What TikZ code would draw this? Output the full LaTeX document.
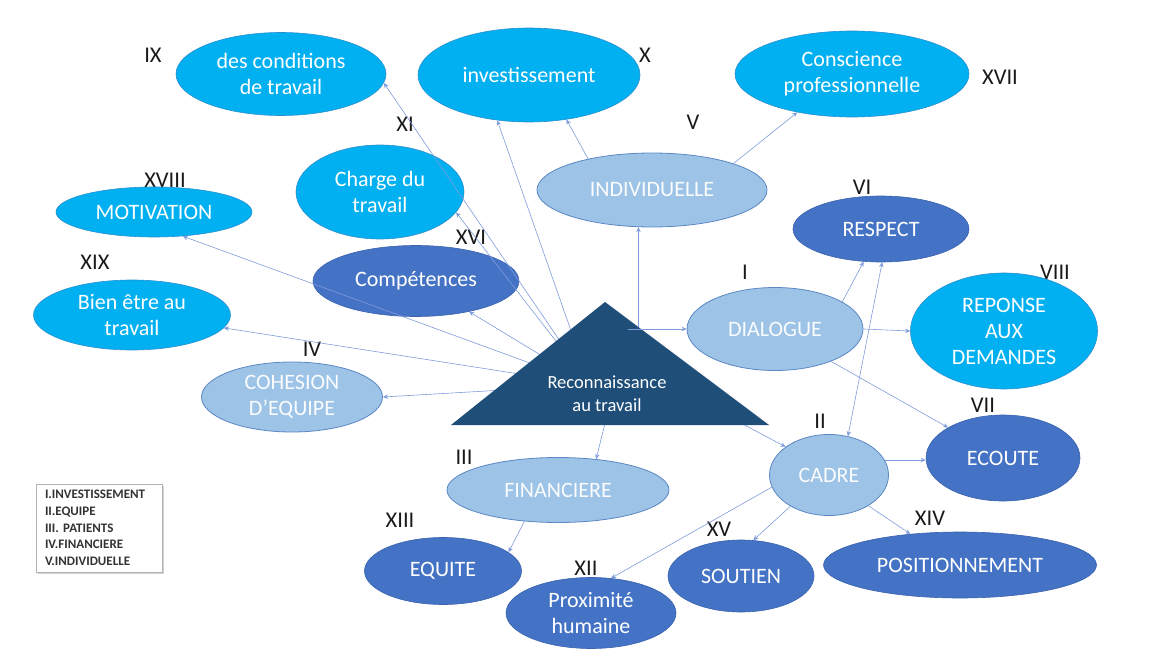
\documentclass[tikz,border=0pt]{standalone}
\usepackage{fontspec}
\setmainfont{Carlito}
\usetikzlibrary{shapes.geometric,arrows.meta,shadows}
\definecolor{bright}{HTML}{00B0F0}
\definecolor{brightline}{HTML}{2A8FD0}
\definecolor{deep}{HTML}{4472C4}
\definecolor{deepline}{HTML}{3A62AE}
\definecolor{pale}{HTML}{9DC3E6}
\definecolor{paleline}{HTML}{5B87C5}
\definecolor{night}{HTML}{1F4E79}
\definecolor{wire}{HTML}{7F9BDC}

\begin{document}
\begin{tikzpicture}[x=1pt,y=-1pt,
	oval/.style={ellipse,inner sep=0pt,align=center,text=white,font=\fontsize{22}{26}\selectfont},
	bright/.style={oval,fill=bright,draw=brightline,line width=0.6pt},
	deep/.style={oval,fill=deep,draw=deepline,line width=0.6pt},
	pale/.style={oval,fill=pale,draw=paleline,line width=0.8pt,text=white!95!pale},
	num/.style={font=\fontsize{22.5}{22.5}\selectfont,inner sep=0pt,text=black!90},
	conn/.style={->,>={Stealth[length=5pt,width=4.5pt]},draw=wire,line width=0.6pt}]
	\useasboundingbox (0,0) rectangle (1170,666);

	\foreach \t/\x/\y in {IX/153/55,X/645/55,XVII/1000/77,XI/405/124,V/693/122,XVIII/165/180,XVI/471/237,VI/862/187,XIX/95/262,I/745/272,VIII/1055/272,IV/312/349,VII/983/405,II/820/421,III/464/457,XIII/400/520,XV/719/529,XIV/930/518,XII/586/568}
		\node[num] (r\t) at (\x,\y) {\t};

	\node[bright,minimum width=210pt,minimum height=83pt] (cond) at (281,74) {des conditions\\de travail};
	\node[bright,minimum width=222pt,minimum height=94pt] (invest) at (529,75) {investissement};
	\node[bright,minimum width=234pt,minimum height=86pt] (consc) at (852,74) {Conscience\\professionnelle};
	\node[bright,minimum width=168pt,minimum height=94pt] (charge) at (380,192) {Charge du\\travail};
	\node[pale,minimum width=230pt,minimum height=74pt] (indiv) at (652,190) {INDIVIDUELLE};
	\node[bright,minimum width=196pt,minimum height=50pt] (motiv) at (154,212) {MOTIVATION};
	\node[deep,minimum width=206pt,minimum height=71pt] (compet) at (416,281) {Compétences};
	\node[bright,minimum width=197pt,minimum height=70pt] (bien) at (132,315) {Bien être au\\travail};
	\node[deep,minimum width=176pt,minimum height=66pt] (respect) at (881,229) {RESPECT};
	\node[pale,minimum width=176pt,minimum height=83pt] (dial) at (775,329) {DIALOGUE};
	\node[bright,minimum width=187pt,minimum height=116pt] (reponse) at (1004,331) {REPONSE\\AUX\\DEMANDES};
	\node[pale,minimum width=181pt,minimum height=70pt] (cohes) at (292,397) {COHESION\\D’EQUIPE};
	\node[deep,minimum width=154pt,minimum height=86pt] (ecoute) at (1003,458) {ECOUTE};
	\node[pale,minimum width=119pt,minimum height=81pt] (cadre) at (829,475) {CADRE};
	\node[pale,minimum width=222pt,minimum height=65pt] (financ) at (558,490) {FINANCIERE};
	\node[deep,minimum width=157pt,minimum height=67pt] (equite) at (443,571) {EQUITE};
	\node[deep,minimum width=170pt,minimum height=71pt] (proxi) at (591,613) {Proximité\\humaine};
	\node[deep,minimum width=146pt,minimum height=72pt] (soutien) at (741,576) {SOUTIEN};
	\node[deep,minimum width=273pt,minimum height=66pt] (posit) at (960,565) {POSITIONNEMENT};

	\coordinate (hub) at (590,385);
	\foreach \n/\a in {cond/-5,invest/-125,charge/-15,compet/-30,motiv/-40,bien/-8,cohes/0}
		\draw[conn] (hub) -- (\n.\a);
	\draw[conn] (indiv.-110 |- hub) -- (indiv.-110);
	\draw[conn] (607,415) -- (financ.39);
	\draw[conn] (720,412) -- (cadre.147);

	\fill[night] (605,302) -- (451,425) -- (769,425) -- cycle;
	\node[text=white,align=center,font=\fontsize{18.5}{23}\selectfont] (reco) at (607,394) {Reconnaissance\\au travail};
	\draw[conn] (dial.west -| 628,0) -- (dial.west);

	\draw[conn] (indiv.154) -- (invest.-50);
	\draw[conn] (indiv.18) -- (consc.215);
	\draw[conn] (dial.22) -- (respect.-118);
	\draw[conn] (dial.east) -- (reponse.west);
	\draw[conn] (dial.-30) -- (ecoute.151);
	\draw[conn,<->] (respect.-88) -- (cadre.64);
	\draw[conn] (cadre.15) -- (cadre.15 -| ecoute.west);
	\draw[conn] (cadre.-141) -- (soutien.71);
	\draw[conn] (cadre.-38) -- (posit.148);
	\draw[conn] (cadre.-168) -- (proxi.60);
	\draw[conn] (financ.-137) -- (equite.16);

	\node[draw=gray!60,fill=white,drop shadow={opacity=0.35,shadow xshift=1.5pt,shadow yshift=-1.5pt},
		minimum width=126pt,minimum height=88pt,text width=108pt,align=left,inner xsep=9pt,
		font=\bfseries\fontsize{13}{16.7}\selectfont,text=black!80] (legend) at (99,528)
		{I.INVESTISSEMENT\\II.EQUIPE\\III. PATIENTS\\IV.FINANCIERE\\V.INDIVIDUELLE};
\end{tikzpicture}
\end{document}
